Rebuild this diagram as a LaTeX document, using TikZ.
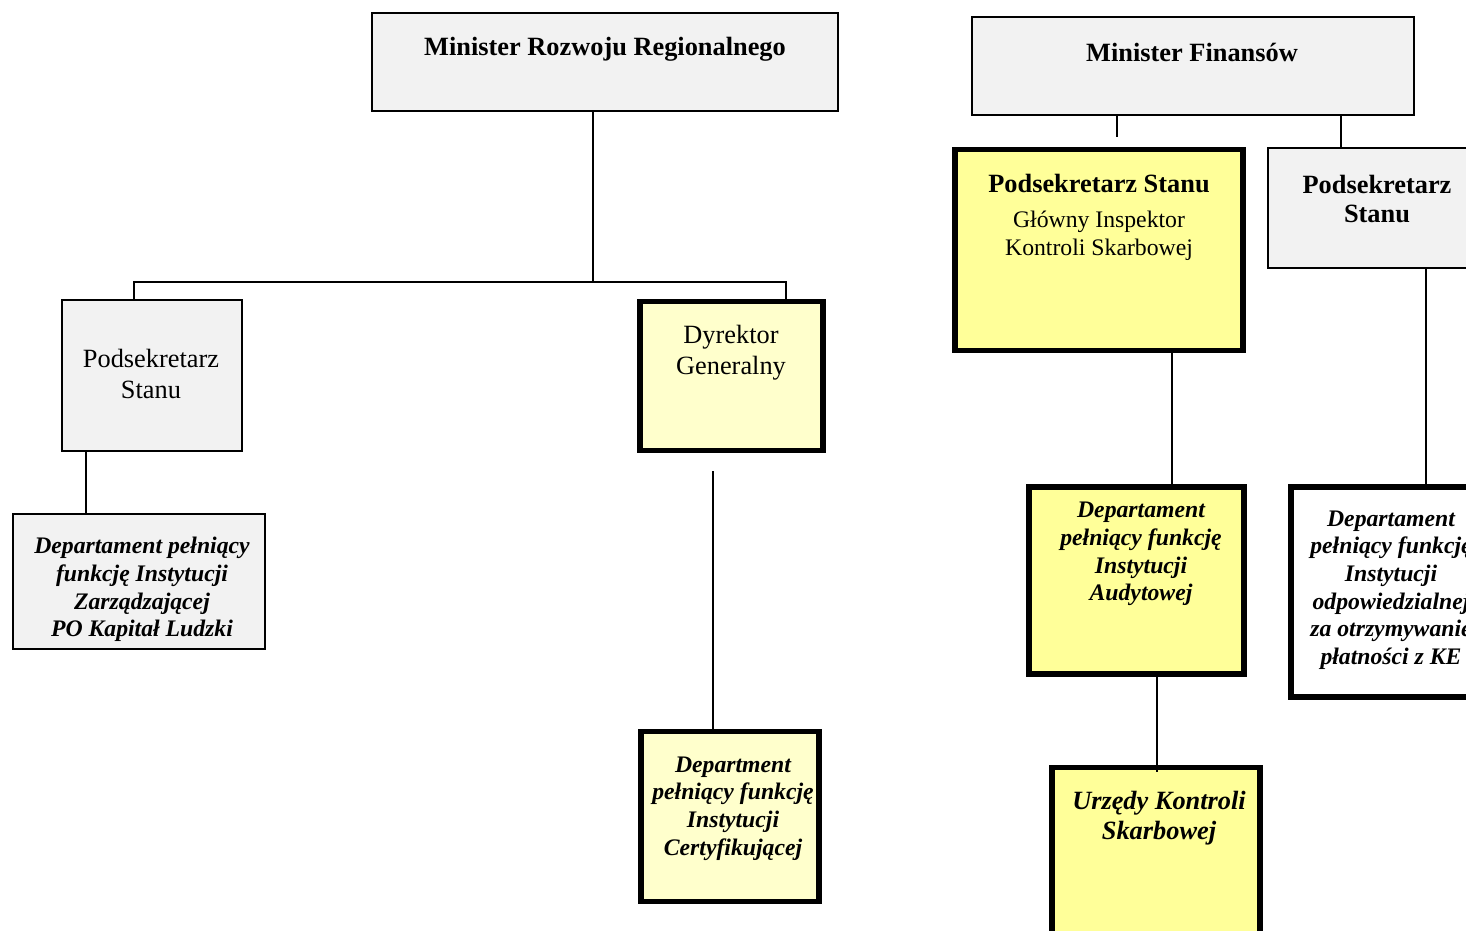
\documentclass[tikz,border=0pt]{standalone}
\usepackage{fontspec}
\setmainfont{Liberation Serif}
\usepackage{tikz}

\definecolor{boxgrey}{HTML}{F2F2F2}
\definecolor{boxyellow}{HTML}{FFFF99}
\definecolor{paleyellow}{HTML}{FFFFCC}

\begin{document}
\begin{tikzpicture}[x=0.02cm,y=-0.02cm,
        greybox/.style={draw, line width=1.1pt, fill=boxgrey, inner sep=0pt, outer sep=0pt},
        thickbox/.style={draw, line width=3pt, inner sep=0pt, outer sep=0pt},
        link/.style={line width=1.1pt},
        itxt/.style={align=center, font=\fontsize{13.5}{15.7}\selectfont\bfseries\itshape}]
        \useasboundingbox (0,0) rectangle (1466,930);
        % boxes
        \node[greybox, minimum width=9.32cm, minimum height=1.96cm] (mrr) at (605,62) {};
        \node[greybox, minimum width=8.84cm, minimum height=1.96cm] (mf) at (1193,66) {};
        \node[greybox, minimum width=3.6cm, minimum height=3.02cm] (psl) at (152,375.5) {};
        \node[thickbox, fill=paleyellow, minimum width=3.66cm, minimum height=2.98cm] (dg) at (731.5,376) {};
        \node[greybox, minimum width=5.04cm, minimum height=2.7cm] (diz) at (139,581.5) {};
        \node[thickbox, fill=paleyellow, minimum width=3.56cm, minimum height=3.4cm] (dic) at (730,816.5) {};
        \node[thickbox, fill=boxyellow, minimum width=5.76cm, minimum height=4.02cm] (psg) at (1099,250) {};
        \node[greybox, minimum width=4.64cm, minimum height=2.4cm] (psr) at (1384,208) {};
        \node[thickbox, fill=boxyellow, minimum width=4.3cm, minimum height=3.74cm] (dia) at (1136.5,580.5) {};
        \node[thickbox, fill=white, minimum width=4.16cm, minimum height=4.2cm] (dir) at (1395,592) {};
        \node[thickbox, fill=boxyellow, minimum width=4.16cm, minimum height=3.8cm] (uks) at (1156,862.5) {};

        % texts
        \node[font=\fontsize{15}{17.6}\selectfont\bfseries] (mrr-t) at (605,49) {Minister Rozwoju Regionalnego};
        \node[font=\fontsize{15}{17.6}\selectfont\bfseries] (mf-t) at (1192,52) {Minister Finansów};
        \node[align=center, font=\fontsize{15}{17.6}\selectfont] (psl-t) at (151,374) {Podsekretarz\\Stanu};
        \node[align=center, font=\fontsize{15}{17.6}\selectfont] (dg-t) at (731,353) {Dyrektor\\Generalny};
        \node[itxt] (diz-t) at (142,589.5) {Departament pełniący\\funkcję Instytucji\\Zarządzającej\\PO Kapitał Ludzki};
        \node[itxt] (dic-t) at (733,808.5) {Department\\pełniący funkcję\\Instytucji\\Certyfikującej};
        \node[font=\fontsize{15}{17.6}\selectfont\bfseries] (psg-t) at (1099,184) {Podsekretarz Stanu};
        \node[align=center, font=\fontsize{13.5}{15.9}\selectfont] (psg-s) at (1099,236) {Główny Inspektor\\Kontroli Skarbowej};
        \node[align=center, font=\fontsize{15}{17}\selectfont\bfseries] (psr-t) at (1377,199) {Podsekretarz\\Stanu};
        \node[itxt] (dia-t) at (1141,554) {Departament\\pełniący funkcję\\Instytucji\\Audytowej};
        \node[itxt] (dir-t) at (1391,590) {Departament\\pełniący funkcję\\Instytucji\\odpowiedzialnej\\za otrzymywanie\\płatności z KE};
        \node[align=center, font=\fontsize{15}{17}\selectfont\bfseries\itshape] (uks-t) at (1159,818) {Urzędy Kontroli\\Skarbowej};

        % connectors
        \coordinate (mrrjoin) at (593,282);
        \coordinate (leftjoin) at (134,282);
        \coordinate (rightjoin) at (786,282);
        \coordinate (pslx) at (86,0);
        \coordinate (dgend) at (713,471);
        \coordinate (mfstub) at (1117,137);
        \coordinate (mfx) at (1341,0);
        \coordinate (psgx) at (1172,0);
        \coordinate (uksend) at (1157,772);
        \coordinate (psrx) at (1426,0);
        \draw[link] (mrr.south -| mrrjoin) -- (mrrjoin);
        \draw[link] (psl.north -| leftjoin) -- (leftjoin) -- (rightjoin) -- (dg.north -| rightjoin);
        \draw[link] (psl.south -| pslx) -- (diz.north -| pslx);
        \draw[link] (dgend) -- (dic.north -| dgend);
        \draw[link] (mf.south -| mfstub) -- (mfstub);
        \draw[link] (mf.south -| mfx) -- (psr.north -| mfx);
        \draw[link] (psg.south -| psgx) -- (dia.north -| psgx);
        \draw[link] (dia.south -| uksend) -- (uksend);
        \draw[link] (psr.south -| psrx) -- (dir.north -| psrx);
\end{tikzpicture}
\end{document}
